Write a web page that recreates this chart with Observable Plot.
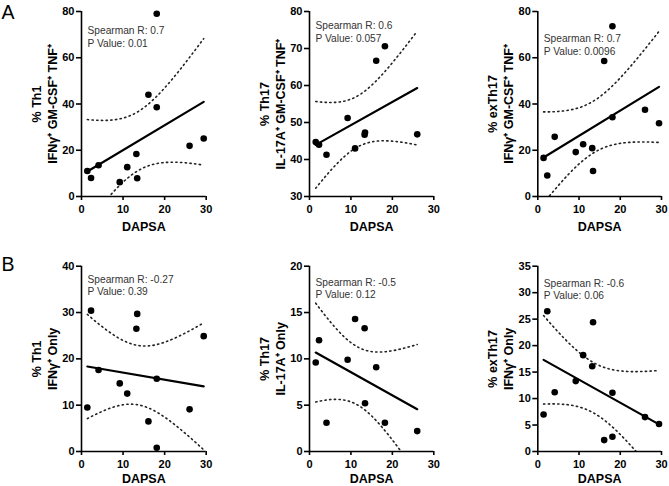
<!DOCTYPE html>
<html>
<head>
<meta charset="utf-8">
<script src="https://cdn.jsdelivr.net/npm/d3@7"></script>
<script src="https://cdn.jsdelivr.net/npm/@observablehq/plot@0.6"></script>
<style>
  html, body { margin: 0; padding: 0; background: #fff; }
  #wrap { position: relative; width: 669px; height: 486px; overflow: hidden; background: #fff; }
  #wrap > svg.panel { position: absolute; }
  #letters { position: absolute; left: 0; top: 0; }
</style>
</head>
<body>
<div id="wrap"></div>
<script>
// ---------- data ----------
// DAPSA scores (x) of the patients
const dapsaAll = [1.4, 2.3, 4.1, 9.2, 11.0, 13.2, 13.4, 16.1, 18.1, 18.1, 26.0, 29.4];
const dapsaTh17 = [1.5, 2.3, 4.1, 9.2, 11.0, 13.3, 13.4, 16.1, 18.2, 26.0];

// Panel A: GM-CSF+ TNF+ polyfunctional cells
const th1Poly    = [11.0, 8.0, 13.5, 6.2, 12.7, 18.4, 7.9, 44.0, 79.0, 38.6, 21.9, 25.1];
const th17Poly   = [44.7, 44.0, 41.3, 51.2, 43.0, 46.7, 47.3, 66.7, 70.6, 46.8];
const exTh17Poly = [16.7, 9.1, 25.8, 19.2, 22.6, 20.9, 11.0, 58.6, 73.6, 34.3, 37.5, 31.7];

// Panel B: single-cytokine cells
const th1Only    = [9.5, 30.4, 17.6, 14.7, 12.5, 26.5, 29.7, 6.5, 15.7, 0.8, 9.1, 24.9];
const th17Only   = [9.6, 12.0, 3.1, 9.9, 14.3, 13.3, 5.2, 9.1, 3.1, 2.2];
const exTh17Only = [7.0, 26.5, 11.2, 13.3, 18.2, 16.1, 24.4, 2.15, 11.1, 2.8, 6.5, 5.2];

// statistics text
const spearmanR = ["0.7", "0.6", "0.7", "-0.27", "-0.5", "-0.6"];
const pValues   = ["0.01", "0.057", "0.0096", "0.39", "0.12", "0.06"];

// axis labels and ticks
const popLabels = ["% Th1", "% Th17", "% exTh17", "% Th1", "% Th17", "% exTh17"];
const markerLabels = [
  "IFNγ⁺ GM-CSF⁺ TNF⁺", "IL-17A⁺ GM-CSF⁺ TNF⁺", "IFNγ⁺ GM-CSF⁺ TNF⁺",
  "IFNγ⁺ Only", "IL-17A⁺ Only", "IFNγ⁺ Only"
];
const xLabel = "DAPSA";
const xTicks = [0, 10, 20, 30];
const yTicksList = [
  [0, 20, 40, 60, 80],
  [30, 40, 50, 60, 70, 80],
  [0, 20, 40, 60, 80],
  [0, 10, 20, 30, 40],
  [0, 5, 10, 15, 20],
  [0, 5, 10, 15, 20, 25, 30, 35]
];
const panelLetters = ["A", "B"];

// ---------- layout (positions only) ----------
const xsList = [dapsaAll, dapsaTh17, dapsaAll, dapsaAll, dapsaTh17, dapsaAll];
const ysList = [th1Poly, th17Poly, exTh17Poly, th1Only, th17Only, exTh17Only];
const cols = [
  {left: 0,   mL: 81,   mR: 17.3},
  {left: 223, mL: 86,   mR: 12.7},
  {left: 446, mL: 91.3, mR: 8}
];
const rows = [
  {top: 0,   mT: 11,   mB: 47, labelDy: 30},
  {top: 243, mT: 22.7, mB: 35, labelDy: 27.5}
];
const statDy = [14, 9, 22, 7.6, 11, 12];

// t critical values (two-sided 95%) by degrees of freedom
const tCrit = {8: 2.306, 10: 2.228};

function fit(xs, ys) {
  const n = xs.length;
  const xbar = d3.mean(xs), ybar = d3.mean(ys);
  let sxx = 0, sxy = 0;
  for (let i = 0; i < n; i++) { sxx += (xs[i]-xbar)**2; sxy += (xs[i]-xbar)*(ys[i]-ybar); }
  const b = sxy / sxx, a = ybar - b * xbar;
  let sse = 0;
  for (let i = 0; i < n; i++) sse += (ys[i] - a - b*xs[i])**2;
  const s = Math.sqrt(sse / (n - 2));
  const t = tCrit[n - 2];
  const [x0, x1] = d3.extent(xs);
  const grid = d3.range(0, 81).map(i => x0 + (x1 - x0) * i / 80);
  const hw = x => t * s * Math.sqrt(1/n + (x - xbar)**2 / sxx);
  return {
    line: [x0, x1].map(x => ({x, y: a + b*x})),
    upper: grid.map(x => ({x, y: a + b*x + hw(x)})),
    lower: grid.map(x => ({x, y: a + b*x - hw(x)}))
  };
}

const FONT = "'Liberation Sans', Arial, Helvetica, sans-serif";
const wrap = document.getElementById("wrap");

for (let k = 0; k < 6; k++) {
  const col = cols[k % 3], row = rows[Math.floor(k / 3)];
  const xs = xsList[k], ys = ysList[k];
  const yTicks = yTicksList[k];
  const yDomain = [yTicks[0], yTicks[yTicks.length - 1]];
  const pts = xs.map((x, i) => ({x, y: ys[i]}));
  const f = fit(xs, ys);
  const chart = Plot.plot({
    width: 223, height: 243,
    marginLeft: col.mL, marginRight: col.mR, marginTop: row.mT, marginBottom: row.mB,
    x: {domain: [0, 30], axis: null},
    y: {domain: yDomain, axis: null},
    style: {fontFamily: FONT, color: "#000", background: "transparent", overflow: "visible"},
    marks: [
      Plot.line(f.upper, {x: "x", y: "y", stroke: "#222", strokeWidth: 1.6, strokeDasharray: "1.3,3.4", strokeLinecap: "round", clip: true}),
      Plot.line(f.lower, {x: "x", y: "y", stroke: "#222", strokeWidth: 1.6, strokeDasharray: "1.3,3.4", strokeLinecap: "round", clip: true}),
      Plot.line(f.line, {x: "x", y: "y", stroke: "#000", strokeWidth: 2.2, clip: true}),
      Plot.dot(pts, {x: "x", y: "y", r: 3.3, fill: "#000", stroke: "none"}),
      Plot.ruleX([0], {stroke: "#000", strokeWidth: 1.6}),
      Plot.ruleY([yDomain[0]], {stroke: "#000", strokeWidth: 1.6}),
      Plot.axisX({ticks: xTicks, tickSize: 4, tickPadding: 5, label: null, fontSize: 11, fontWeight: "bold", strokeWidth: 1.6}),
      Plot.axisY({ticks: yTicks, tickSize: 5, tickPadding: 2, label: null, fontSize: 11, fontWeight: "bold", strokeWidth: 1.6}),
      Plot.text([xLabel], {text: d => d, frameAnchor: "bottom", textAnchor: "middle", lineAnchor: "middle", dy: row.labelDy, fontSize: 12.5, fontWeight: "bold"}),
      Plot.text([popLabels[k]], {text: d => d, frameAnchor: "left", textAnchor: "middle", rotate: -90, dx: -45, fontSize: 12.5, fontWeight: "bold", lineAnchor: "middle"}),
      Plot.text([markerLabels[k]], {text: d => d, frameAnchor: "left", textAnchor: "middle", rotate: -90, dx: -28.5, fontSize: 12.5, fontWeight: "bold", lineAnchor: "middle"}),
      Plot.text([`Spearman R: ${spearmanR[k]}\nP Value: ${pValues[k]}`], {
        text: d => d, frameAnchor: "top-left", textAnchor: "start", lineAnchor: "top",
        dx: 6, dy: statDy[k], fontSize: 10.2, lineHeight: 1.22, fill: "#333"
      })
    ]
  });
  chart.classList.add("panel");
  chart.style.left = col.left + "px";
  chart.style.top = row.top + "px";
  wrap.appendChild(chart);
}

// panel letters
const ns = "http://www.w3.org/2000/svg";
const lsvg = document.createElementNS(ns, "svg");
lsvg.setAttribute("id", "letters");
lsvg.setAttribute("width", 669);
lsvg.setAttribute("height", 486);
lsvg.style.position = "absolute";
lsvg.style.pointerEvents = "none";
const letterY = [18.5, 271];
panelLetters.forEach((L, i) => {
  const t = document.createElementNS(ns, "text");
  t.setAttribute("x", 1.5);
  t.setAttribute("y", letterY[i]);
  t.setAttribute("font-family", FONT);
  t.setAttribute("font-size", 19.5);
  t.textContent = L;
  lsvg.appendChild(t);
});
wrap.appendChild(lsvg);
</script>
</body>
</html>
